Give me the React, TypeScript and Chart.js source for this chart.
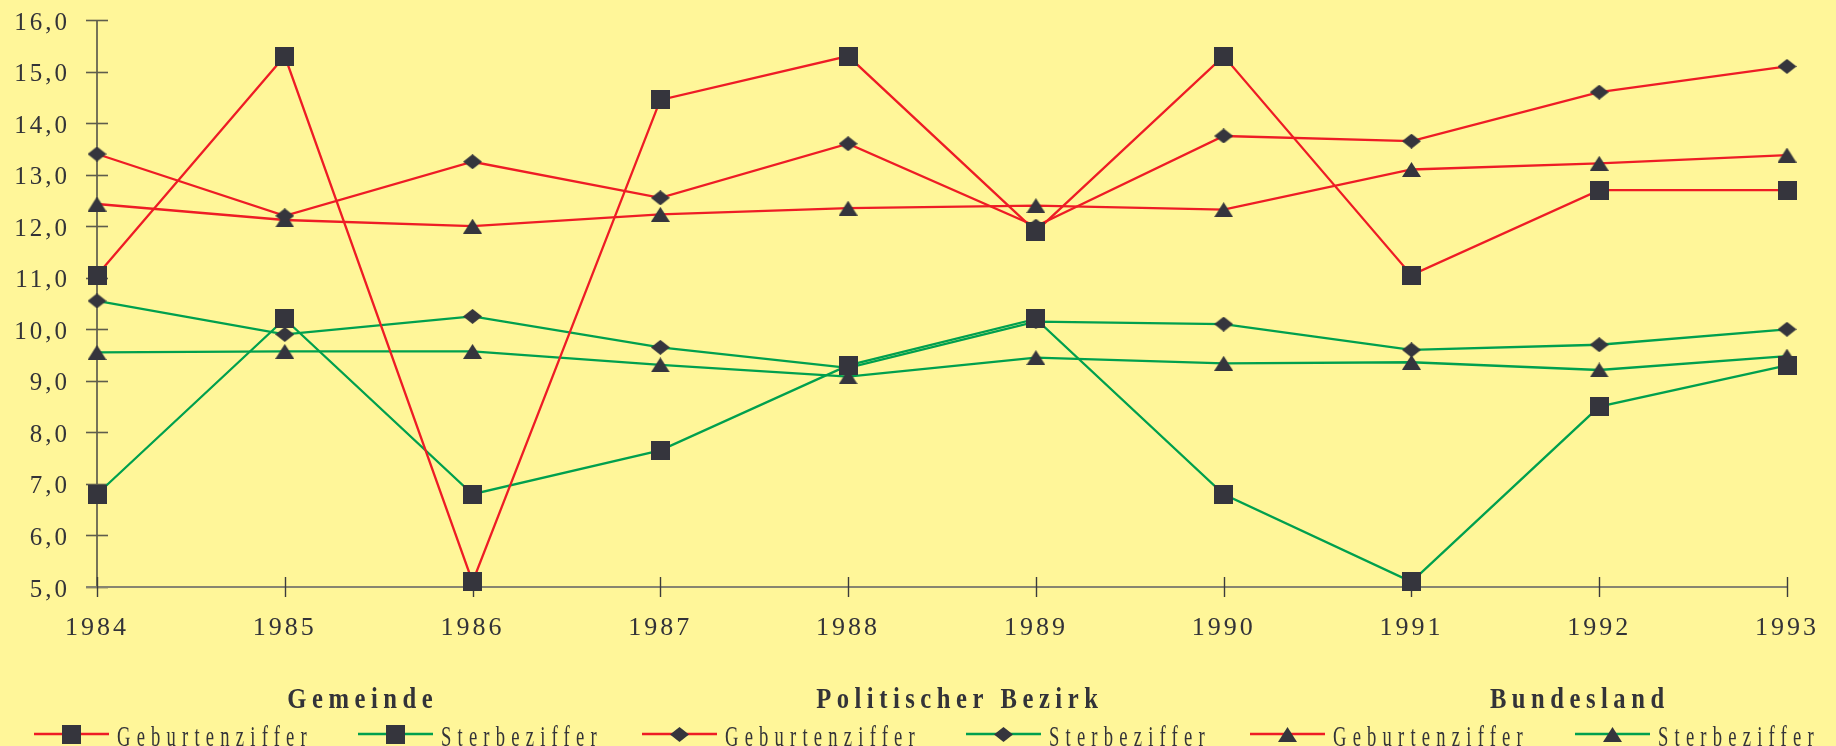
import React, { useEffect, useRef } from 'react';
import { Chart, registerables } from 'chart.js';

Chart.register(...registerables);

// ---- data ----
const years = ['1984', '1985', '1986', '1987', '1988', '1989', '1990', '1991', '1992', '1993'];
const yTickLabels = ['5,0', '6,0', '7,0', '8,0', '9,0', '10,0', '11,0', '12,0', '13,0', '14,0', '15,0', '16,0'];
const groupTitles = ['Gemeinde', 'Politischer Bezirk', 'Bundesland'];
const seriesNames = ['Geburtenziffer', 'Sterbeziffer'];

const gemeindeGeburten = [11.05, 15.3, 5.1, 14.45, 15.3, 11.9, 15.3, 11.05, 12.7, 12.7];
const gemeindeSterbe = [6.8, 10.2, 6.8, 7.65, 9.3, 10.2, 6.8, 5.1, 8.5, 9.3];
const bezirkGeburten = [13.4, 12.2, 13.25, 12.55, 13.6, 12.0, 13.75, 13.65, 14.6, 15.1];
const bezirkSterbe = [10.55, 9.9, 10.25, 9.65, 9.25, 10.15, 10.1, 9.6, 9.7, 10.0];
const landGeburten = [12.43, 12.12, 12.0, 12.23, 12.35, 12.4, 12.32, 13.1, 13.22, 13.38];
const landSterbe = [9.55, 9.57, 9.57, 9.31, 9.08, 9.45, 9.34, 9.36, 9.21, 9.48];

// ---- style / layout ----
const W = 1836;
const H = 746;
const BG = '#FFF699';
const INK = '#333338';
const RED = '#EE1C25';
const GREEN = '#00A04E';
const MARK = '#35353D';
const FONT = "'Liberation Serif', 'Times New Roman', serif";

const legendStartX = [34, 358, 642, 966, 1250, 1575];
const legendLineLen = 75;
const groupCenterX = [360, 957, 1577];
const titleBaseline = 708;
const legendLineY = 734;
const legendTextBaseline = 746;

function makeMarker(kind: string): HTMLCanvasElement {
  const c = document.createElement('canvas');
  let w = 19;
  let h = 19;
  if (kind === 'diamond') { w = 19; h = 15; }
  if (kind === 'triangle') { w = 19; h = 15; }
  c.width = w;
  c.height = h;
  const ctx = c.getContext('2d')!;
  ctx.fillStyle = MARK;
  ctx.beginPath();
  if (kind === 'square') {
    ctx.rect(0, 0, w, h);
  } else if (kind === 'diamond') {
    ctx.moveTo(w / 2, 0);
    ctx.lineTo(w, h / 2);
    ctx.lineTo(w / 2, h);
    ctx.lineTo(0, h / 2);
    ctx.closePath();
  } else {
    ctx.moveTo(w / 2, 0);
    ctx.lineTo(w, h);
    ctx.lineTo(0, h);
    ctx.closePath();
  }
  ctx.fill();
  return c;
}

// draws horizontally condensed, letter-spaced text
function drawCondensed(ctx: CanvasRenderingContext2D, text: string, x: number, y: number,
  align: CanvasTextAlign, sx: number, spacing: number) {
  ctx.save();
  const shift = align === 'center' ? spacing / 2 : 0;
  ctx.translate(x + shift, y);
  ctx.scale(sx, 1);
  (ctx as any).letterSpacing = `${spacing / sx}px`;
  ctx.textAlign = align;
  ctx.textBaseline = 'alphabetic';
  ctx.fillText(text, 0, 0);
  ctx.restore();
}

export default function App() {
  const ref = useRef<HTMLCanvasElement | null>(null);

  useEffect(() => {
    const canvas = ref.current;
    if (!canvas) return;
    const square = makeMarker('square');
    const diamond = makeMarker('diamond');
    const triangle = makeMarker('triangle');
    const markers = [square, square, diamond, diamond, triangle, triangle];

    const seriesData = [gemeindeGeburten, gemeindeSterbe, bezirkGeburten, bezirkSterbe, landGeburten, landSterbe];
    const datasets = seriesData.map((d, i) => ({
      label: seriesNames[i % 2],
      data: d,
      borderColor: i % 2 === 0 ? RED : GREEN,
      backgroundColor: i % 2 === 0 ? RED : GREEN,
      borderWidth: 2.3,
      pointStyle: markers[i] as any,
      pointRadius: 10,
      pointHoverRadius: 10,
      tension: 0,
      fill: false,
      clip: false as any,
    }));

    const axesPlugin = {
      id: 'customAxes',
      beforeDraw(chart: any) {
        chart.ctx.letterSpacing = '3px';
      },
      beforeDatasetsDraw(chart: any) {
        const { ctx, chartArea, scales } = chart;
        const xs = scales.x;
        const ys = scales.y;
        ctx.save();
        ctx.letterSpacing = '0px';
        // y axis line
        ctx.strokeStyle = '#3c3c3c';
        ctx.lineWidth = 1.4;
        ctx.beginPath();
        ctx.moveTo(chartArea.left, ys.getPixelForValue(16));
        ctx.lineTo(chartArea.left, chartArea.bottom);
        ctx.stroke();
        // y ticks
        ctx.strokeStyle = '#5e5d4c';
        ctx.lineWidth = 1.6;
        ys.ticks.forEach((t: any) => {
          const y = Math.round(ys.getPixelForValue(t.value)) + 0.5;
          ctx.beginPath();
          ctx.moveTo(chartArea.left - 11, y);
          ctx.lineTo(chartArea.left + 11, y);
          ctx.stroke();
        });
        // x axis line
        ctx.strokeStyle = '#878570';
        ctx.lineWidth = 2;
        ctx.beginPath();
        ctx.moveTo(chartArea.left - 11, chartArea.bottom);
        ctx.lineTo(chartArea.right, chartArea.bottom);
        ctx.stroke();
        // x ticks
        ctx.strokeStyle = '#3c3c3c';
        ctx.lineWidth = 1.4;
        years.forEach((_, i) => {
          const x = Math.round(xs.getPixelForValue(i)) + 0.5;
          ctx.beginPath();
          ctx.moveTo(x, chartArea.bottom - 10);
          ctx.lineTo(x, chartArea.bottom + 10);
          ctx.stroke();
        });
        ctx.restore();
      },
      afterDraw(chart: any) {
        const ctx = chart.ctx;
        ctx.save();
        // group titles
        ctx.fillStyle = INK;
        ctx.font = `bold 29px ${FONT}`;
        groupTitles.forEach((t, g) => {
          drawCondensed(ctx, t, groupCenterX[g], titleBaseline, 'center', 0.85, 5.5);
        });
        // legend entries
        ctx.font = `30px ${FONT}`;
        chart.data.datasets.forEach((ds: any, i: number) => {
          const x0 = legendStartX[i];
          ctx.strokeStyle = ds.borderColor;
          ctx.lineWidth = 2.5;
          ctx.beginPath();
          ctx.moveTo(x0, legendLineY);
          ctx.lineTo(x0 + legendLineLen, legendLineY);
          ctx.stroke();
          const m = ds.pointStyle as HTMLCanvasElement;
          ctx.drawImage(m, Math.round(x0 + legendLineLen / 2 - m.width / 2), Math.round(legendLineY - m.height / 2));
          ctx.fillStyle = INK;
          drawCondensed(ctx, ds.label, x0 + legendLineLen + 8, legendTextBaseline, 'left', 0.62, 6.2);
        });
        ctx.restore();
      },
    };

    const chart = new Chart(canvas, {
      type: 'line',
      data: { labels: years, datasets },
      options: {
        responsive: false,
        animation: false,
        devicePixelRatio: 1,
        layout: { padding: { top: 20, right: 49, left: 0, bottom: 0 } },
        plugins: {
          legend: { display: false },
          tooltip: { enabled: false },
        },
        scales: {
          x: {
            type: 'category',
            offset: false,
            grid: { display: false, drawTicks: true, tickLength: 10 },
            border: { display: false },
            ticks: {
              font: { family: FONT, size: 26 },
              color: INK,
              padding: 16,
              maxRotation: 0,
              autoSkip: false,
            },
            afterFit(s: any) {
              s.height = 159;
              s.paddingLeft = 0;
              s.paddingRight = 0;
              s.paddingTop = 0;
              s.paddingBottom = 0;
            },
          },
          y: {
            min: 5,
            max: 16,
            grid: { display: false, drawTicks: true, tickLength: 10 },
            border: { display: false },
            ticks: {
              stepSize: 1,
              font: { family: FONT, size: 25 },
              color: INK,
              padding: 17,
              labelOffset: 3,
              callback: (_v: any, i: number) => yTickLabels[i],
            },
            afterFit(s: any) {
              s.width = 97;
              s.paddingTop = 0;
              s.paddingBottom = 0;
              s.paddingLeft = 0;
              s.paddingRight = 0;
            },
          },
        },
      } as any,
      plugins: [axesPlugin],
    });
    return () => chart.destroy();
  }, []);

  return (
    <div style={{ position: 'fixed', left: 0, top: 0, width: W, height: H, background: BG, overflow: 'hidden' }}>
      <canvas ref={ref} width={W} height={H} style={{ display: 'block', width: W, height: H }} />
    </div>
  );
}
